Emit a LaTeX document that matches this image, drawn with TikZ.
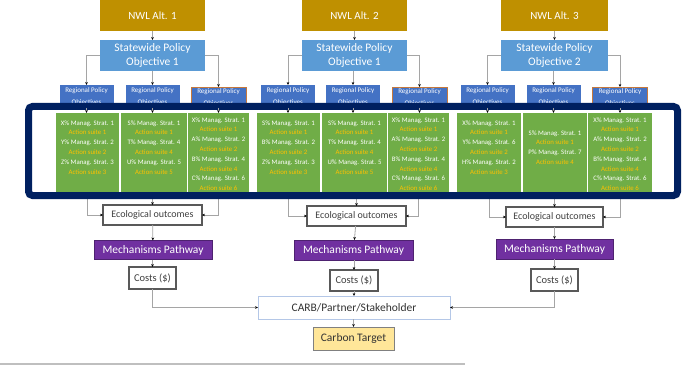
\documentclass[tikz,border=0pt]{standalone}
\usepackage{fontspec}
\setmainfont{Carlito}
\usetikzlibrary{arrows.meta}
\definecolor{nwlgold}{RGB}{191,144,0}
\definecolor{swblue}{RGB}{91,155,213}
\definecolor{regblue}{RGB}{68,114,196}
\definecolor{stratgreen}{RGB}{112,173,71}
\definecolor{suiteyellow}{RGB}{255,192,0}
\definecolor{mechpurple}{RGB}{112,48,160}
\definecolor{bandnavy}{RGB}{0,32,96}
\definecolor{conngray}{RGB}{165,165,165}
\definecolor{boxgray}{RGB}{89,89,89}
\definecolor{carbborder}{RGB}{180,199,231}
\definecolor{targetfill}{RGB}{255,230,153}
\definecolor{regedge}{RGB}{197,120,60}
\newcommand{\msl}[2]{\textcolor{white}{#1\% Manag. Strat. #2}}
\newcommand{\asl}[1]{\textcolor{suiteyellow}{Action suite #1}}
\begin{document}
\begin{tikzpicture}[x=1pt,y=-1pt,
  base/.style={inner sep=0pt, outer sep=0pt, align=center},
  nwlbox/.style={base, fill=nwlgold, text=white, minimum height=31, font=\fontsize{11}{13}\selectfont},
  swbox/.style={base, fill=swblue, text=white, minimum height=31, font=\fontsize{11.5}{14.5}\selectfont},
  regbox/.style={base, fill=regblue, text=white, minimum width=54, font=\fontsize{7}{12}\selectfont},
  greenbox/.style={base, fill=stratgreen, minimum height=79},
  strattext/.style={base, anchor=north, font=\fontsize{6.8}{9.8}\selectfont},
  ecobox/.style={base, draw=boxgray, line width=1.1pt, fill=white, minimum width=99, minimum height=20, font=\fontsize{10}{12}\selectfont, text=black!75},
  mechbox/.style={base, fill=mechpurple, draw=mechpurple!70!black, line width=0.6pt, text=white, minimum width=118, minimum height=19, font=\fontsize{11.5}{13}\selectfont},
  costbox/.style={base, draw=boxgray, line width=1.1pt, fill=white, minimum width=47, minimum height=22, font=\fontsize{10.5}{12}\selectfont, text=black!75},
  conn/.style={draw=conngray, line width=0.8pt, -{Stealth[length=3pt,width=2.6pt,black]}}
]
\useasboundingbox (0,0) rectangle (682,366);

% ---- top level ----
\foreach \g/\cx/\w/\obj/\ra/\rb/\rc in {1/152.5/105/1/86.5/152.5/218.5, 2/354.5/105/1/288/353/419.5, 3/554.5/107/2/487.5/553.5/620}{
  \node[nwlbox, minimum width=\w] (nwl\g) at (\cx,15.5) {NWL Alt. \g};
  \node[swbox, minimum width=\w] (sw\g) at (\cx,55.5) {Statewide Policy\\Objective \obj};
  \node[regbox, minimum height=23] (reg\g a) at (\ra,96.5) {Regional Policy\\Objectives};
  \node[regbox, minimum height=23] (reg\g b) at (\rb,96.5) {Regional Policy\\Objectives};
  \node[regbox, minimum height=21, minimum width=55, draw=regedge, line width=0.4pt] (reg\g c) at (\rc,97.5) {Regional Policy\\Objectives};
  \draw[conn] (nwl\g) -- (sw\g);
  \draw[conn] (sw\g.west) -| (reg\g a.north);
  \draw[conn] (sw\g.south -| reg\g b.north) -- (reg\g b.north);
  \draw[conn] (sw\g.east) -| (reg\g c.north);
}

% ---- green strategy boxes ----
\node[greenbox, minimum width=63] (g1a) at (87.5,152.5) {};
\node[greenbox, minimum width=66] (g1b) at (154,152.5) {};
\node[greenbox, minimum width=61] (g1c) at (218.5,152.5) {};
\node[greenbox, minimum width=63] (g2a) at (288.5,152.5) {};
\node[greenbox, minimum width=65] (g2b) at (354.5,152.5) {};
\node[greenbox, minimum width=61] (g2c) at (418.5,152.5) {};
\node[greenbox, minimum width=64] (g3a) at (489,152.5) {};
\node[greenbox, minimum width=64] (g3b) at (555,152.5) {};
\node[greenbox, minimum width=64] (g3c) at (620,152.5) {};

\node[strattext] (t1a) at (87.5,120.5) {\msl{X}{1}\\\asl{1}\\\msl{Y}{2}\\\asl{2}\\\msl{Z}{3}\\\asl{3}};
\node[strattext] (t1b) at (154,120.5) {\msl{S}{1}\\\asl{1}\\\msl{T}{4}\\\asl{4}\\\msl{U}{5}\\\asl{5}};
\node[strattext] (t1c) at (218.5,117.5) {\msl{X}{1}\\\asl{1}\\\msl{A}{2}\\\asl{2}\\\msl{B}{4}\\\asl{4}\\\msl{C}{6}\\\asl{6}};
\node[strattext] (t2a) at (288.5,120.5) {\msl{S}{1}\\\asl{1}\\\msl{B}{2}\\\asl{2}\\\msl{Z}{3}\\\asl{3}};
\node[strattext] (t2b) at (354.5,120.5) {\msl{S}{1}\\\asl{1}\\\msl{T}{4}\\\asl{4}\\\msl{U}{5}\\\asl{5}};
\node[strattext] (t2c) at (418.5,117.5) {\msl{X}{1}\\\asl{1}\\\msl{A}{2}\\\asl{2}\\\msl{B}{4}\\\asl{4}\\\msl{C}{6}\\\asl{6}};
\node[strattext] (t3a) at (489,120.5) {\msl{X}{1}\\\asl{1}\\\msl{Y}{6}\\\asl{2}\\\msl{H}{2}\\\asl{3}};
\node[strattext] (t3b) at (555,130.5) {\msl{S}{1}\\\asl{1}\\\msl{P}{7}\\\asl{4}};
\node[strattext] (t3c) at (620,117.5) {\msl{X}{1}\\\asl{1}\\\msl{A}{2}\\\asl{2}\\\msl{B}{4}\\\asl{4}\\\msl{C}{6}\\\asl{6}};

% ---- lower chain ----
\node[ecobox] (eco1) at (152.5,215) {Ecological outcomes};
\node[ecobox] (eco2) at (356.5,216) {Ecological outcomes};
\node[ecobox, minimum width=97] (eco3) at (554.5,217) {Ecological outcomes};
\node[mechbox] (mech1) at (153,250) {Mechanisms Pathway};
\node[mechbox, minimum width=119, minimum height=20] (mech2) at (353.5,250) {Mechanisms Pathway};
\node[mechbox, minimum width=117, minimum height=20] (mech3) at (554.5,249) {Mechanisms Pathway};
\node[costbox] (cost1) at (152.5,278) {Costs (\$)};
\node[costbox, minimum width=48, minimum height=21] (cost2) at (354,280.5) {Costs (\$)};
\node[costbox] (cost3) at (554.5,280) {Costs (\$)};
\node[base, draw=carbborder, line width=1pt, fill=white, minimum width=192, minimum height=23, font=\fontsize{11.5}{13}\selectfont, text=black!80] (carb) at (354,307.5) {CARB/Partner/Stakeholder};
\node[base, draw=black!50, line width=1pt, fill=targetfill, minimum width=81, minimum height=23, font=\fontsize{11.5}{13}\selectfont, text=black!80] (target) at (353.5,338.5) {Carbon Target};

\foreach \g in {1,2,3}{
  \draw[conn] (g\g a.south) |- (eco\g.west);
  \draw[conn] (g\g c.south) |- (eco\g.east);
  \draw[conn] (eco\g.north |- g\g b.south) -- (eco\g.north);
  \draw[conn] (eco\g) -- (mech\g);
  \draw[conn] (mech\g.south -| cost\g.north) -- (cost\g.north);
}
\draw[conn] (cost1.south) |- (carb.west);
\draw[conn] (cost3.south) |- (carb.east);
\draw[conn] (cost2.south) -- (cost2.south |- carb.north);
\draw[conn] (carb.south -| target.north) -- (target.north);

% ---- highlight band ----
\node[base, draw=bandnavy, line width=7pt, rounded corners=4pt, minimum width=649, minimum height=89] (band) at (353,151) {};
\foreach \g in {1,2,3}{
  \foreach \b in {a,b,c}{
    \draw[conn] (reg\g\b.south) -- (reg\g\b.south |- g\g\b.north);
  }
}

% ---- footnote rule ----
\draw[draw=black!25, line width=1.5pt] (0,364) -- (465,364);
\end{tikzpicture}
\end{document}
